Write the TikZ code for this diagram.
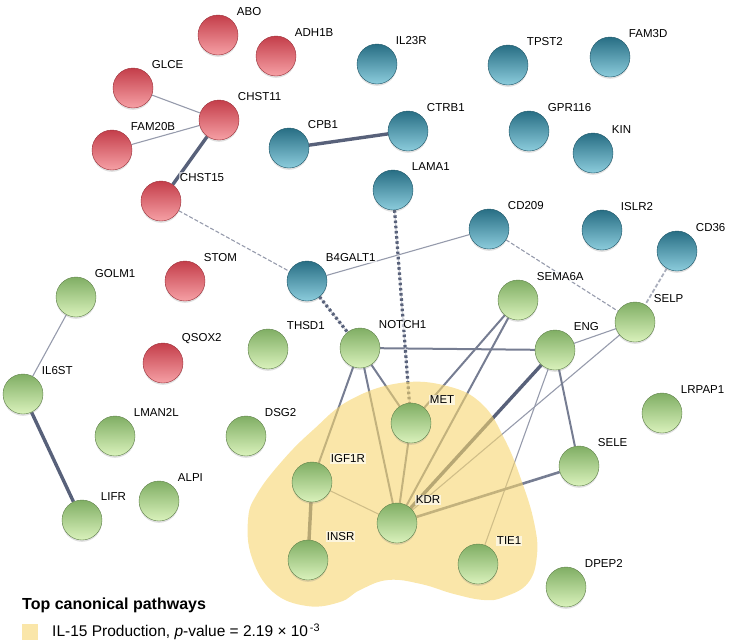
\documentclass[tikz,border=0pt]{standalone}
\usepackage{fontspec}
\setmainfont{Liberation Sans}
\usetikzlibrary{shadows}
\pgfdeclarelayer{edges}
\pgfdeclarelayer{blob}
\pgfsetlayers{edges,blob,main}
\definecolor{redtop}{RGB}{196,62,74}
\definecolor{redbot}{RGB}{246,160,165}
\definecolor{bluetop}{RGB}{40,110,132}
\definecolor{bluebot}{RGB}{140,204,220}
\definecolor{greentop}{RGB}{128,174,100}
\definecolor{greenbot}{RGB}{218,242,188}
\definecolor{linethin}{RGB}{150,155,172}
\definecolor{linemid}{RGB}{118,125,146}
\definecolor{linethick}{RGB}{88,97,122}
\definecolor{blobyellow}{RGB}{247,214,112}
\tikzset{
  sphere/.style={
    circle,
    minimum size=40pt,
    inner sep=0pt,
    shading=axis,
    line width=0.4pt,
    drop shadow={shadow xshift=0pt, shadow yshift=-1.8pt, opacity=0.25},
  },
  rednode/.style={sphere, top color=redtop, bottom color=redbot, draw=redtop!80!black},
  bluenode/.style={sphere, top color=bluetop, bottom color=bluebot, draw=bluetop!80!black},
  greennode/.style={sphere, top color=greentop, bottom color=greenbot, draw=greentop!75!black},
  lbl/.style={
    anchor=south west,
    inner sep=1pt,
    xshift=3.5pt,
    yshift=4pt,
    font=\fontsize{11.5}{12}\selectfont,
    fill=white,
    fill opacity=0.6,
    text opacity=1,
  },
  thinedge/.style={draw=linethin, line width=1.1pt},
  midedge/.style={draw=linemid, line width=2pt},
  thickedge/.style={draw=linethick, line width=3.4pt},
  dashedge/.style={draw=linethin, line width=1.1pt, dash pattern=on 4pt off 2pt},
  dotedge/.style={
    draw=linethick,
    line width=3.2pt,
    dash pattern=on 2.6pt off 2.6pt,
    preaction={draw=linethin!50, line width=1.2pt, solid},
  },
  blobfill/.style={fill=blobyellow, fill opacity=0.6},
}

\begin{document}
\begin{tikzpicture}[x=1pt, y=-1pt]
  \useasboundingbox (0,0) rectangle (742,643);

  % red cluster
  \node[rednode, label={[lbl]45:ABO}] (ABO) at (218,35) {};
  \node[rednode, label={[lbl]45:ADH1B}] (ADH1B) at (276,56) {};
  \node[rednode, label={[lbl]45:GLCE}] (GLCE) at (133,88) {};
  \node[rednode, label={[lbl]45:CHST11}] (CHST11) at (219,120) {};
  \node[rednode, label={[lbl]45:FAM20B}] (FAM20B) at (112,150) {};
  \node[rednode, label={[lbl]45:CHST15}] (CHST15) at (161,201) {};
  \node[rednode, label={[lbl]45:STOM}] (STOM) at (185,281) {};
  \node[rednode, label={[lbl]45:QSOX2}] (QSOX2) at (163,363) {};

  % blue cluster
  \node[bluenode, label={[lbl]45:IL23R}] (IL23R) at (377,64) {};
  \node[bluenode, label={[lbl]45:TPST2}] (TPST2) at (508,65) {};
  \node[bluenode, label={[lbl]45:FAM3D}] (FAM3D) at (610,57) {};
  \node[bluenode, label={[lbl]45:CPB1}] (CPB1) at (289,148) {};
  \node[bluenode, label={[lbl]45:CTRB1}] (CTRB1) at (408,131) {};
  \node[bluenode, label={[lbl]45:GPR116}] (GPR116) at (529,131) {};
  \node[bluenode, label={[lbl]45:KIN}] (KIN) at (593,153) {};
  \node[bluenode, label={[lbl]45:LAMA1}] (LAMA1) at (393,190) {};
  \node[bluenode, label={[lbl]45:CD209}] (CD209) at (489,229) {};
  \node[bluenode, label={[lbl]45:ISLR2}] (ISLR2) at (602,230) {};
  \node[bluenode, label={[lbl]45:CD36}] (CD36) at (677,251) {};
  \node[bluenode, label={[lbl]45:B4GALT1}] (B4GALT1) at (307,281) {};

  % green cluster
  \node[greennode, label={[lbl]45:GOLM1}] (GOLM1) at (76,297) {};
  \node[greennode, label={[lbl]45:SEMA6A}] (SEMA6A) at (518,300) {};
  \node[greennode, label={[lbl]45:SELP}] (SELP) at (635,322) {};
  \node[greennode, label={[lbl]45:THSD1}] (THSD1) at (268,349) {};
  \node[greennode, label={[lbl]45:NOTCH1}] (NOTCH1) at (360,348) {};
  \node[greennode, label={[lbl]45:ENG}] (ENG) at (555,350) {};
  \node[greennode, label={[lbl]45:IL6ST}] (IL6ST) at (23,394) {};
  \node[greennode, label={[lbl]45:LRPAP1}] (LRPAP1) at (662,413) {};
  \node[greennode, label={[lbl]45:MET}] (MET) at (411,423) {};
  \node[greennode, label={[lbl]45:LMAN2L}] (LMAN2L) at (115,436) {};
  \node[greennode, label={[lbl]45:DSG2}] (DSG2) at (246,436) {};
  \node[greennode, label={[lbl]45:SELE}] (SELE) at (579,466) {};
  \node[greennode, label={[lbl]45:IGF1R}] (IGF1R) at (312,482) {};
  \node[greennode, label={[lbl]45:ALPI}] (ALPI) at (159,501) {};
  \node[greennode, label={[lbl]45:LIFR}] (LIFR) at (82,520) {};
  \node[greennode, label={[lbl]45:KDR}] (KDR) at (397,523) {};
  \node[greennode, label={[lbl]45:INSR}] (INSR) at (308,560) {};
  \node[greennode, label={[lbl]45:TIE1}] (TIE1) at (478,564) {};
  \node[greennode, label={[lbl]45:DPEP2}] (DPEP2) at (566,587) {};

  \begin{pgfonlayer}{edges}
    \draw[thinedge] (GLCE) -- (CHST11);
    \draw[thinedge] (FAM20B) -- (CHST11);
    \draw[thinedge] (B4GALT1) -- (CD209);
    \draw[thinedge] (GOLM1) -- (IL6ST);
    \draw[thinedge] (ENG) -- (SELP);
    \draw[thinedge] (ENG) -- (TIE1);
    \draw[thinedge] (SELP) -- (KDR);
    \draw[thinedge] (IGF1R) -- (KDR);
    \draw[dashedge] (CHST15) -- (B4GALT1);
    \draw[dashedge] (CD209) -- (SELP);
    \draw[dashedge, line width=1.8pt, draw=linethin!80] (CD36) -- (SELP);
    \draw[midedge] (NOTCH1) -- (ENG);
    \draw[midedge] (NOTCH1) -- (IGF1R);
    \draw[midedge] (NOTCH1) -- (KDR);
    \draw[midedge] (NOTCH1) -- (MET);
    \draw[midedge] (SEMA6A) -- (MET);
    \draw[midedge] (SEMA6A) -- (KDR);
    \draw[midedge] (ENG) -- (SELE);
    \draw[midedge] (MET) -- (KDR);
    \draw[midedge, line width=2.6pt] (SELE) -- (KDR);
    \draw[thickedge] (CHST11) -- (CHST15);
    \draw[thickedge] (CPB1) -- (CTRB1);
    \draw[thickedge] (IL6ST) -- (LIFR);
    \draw[thickedge] (IGF1R) -- (INSR);
    \draw[thickedge] (ENG) -- (KDR);
    \draw[dotedge] (LAMA1) -- (MET);
    \draw[dotedge] (B4GALT1) -- (NOTCH1);
  \end{pgfonlayer}

  % pathway area
  \begin{pgfonlayer}{blob}
    \fill[blobfill] plot[smooth cycle, tension=0.7] coordinates {
      (400,383) (447,386) (482,404) (505,440) (522,482) (534,522)
      (537,555) (528,583) (504,597) (484,600) (454,594) (421,584)
      (388,580) (360,590) (340,602) (307,606) (273,592) (252,558)
      (248,520) (257,494) (283,460) (313,430) (350,400)};
  \end{pgfonlayer}

  % legend
  \node[anchor=west, inner sep=0pt, font=\fontsize{16}{18}\selectfont\bfseries] (title) at (22,605) {Top canonical pathways};
  \node[draw=none, fill=blobyellow!60, minimum size=16pt, inner sep=0pt, anchor=west] (key) at (22,632) {};
  \node[anchor=west, inner sep=0pt, font=\fontsize{15.5}{18}\selectfont] (keytext) at (52,632)
    {IL-15 Production, \textit{p}-value = 2.19 × 10\textsuperscript{\,-3}};
\end{tikzpicture}
\end{document}
